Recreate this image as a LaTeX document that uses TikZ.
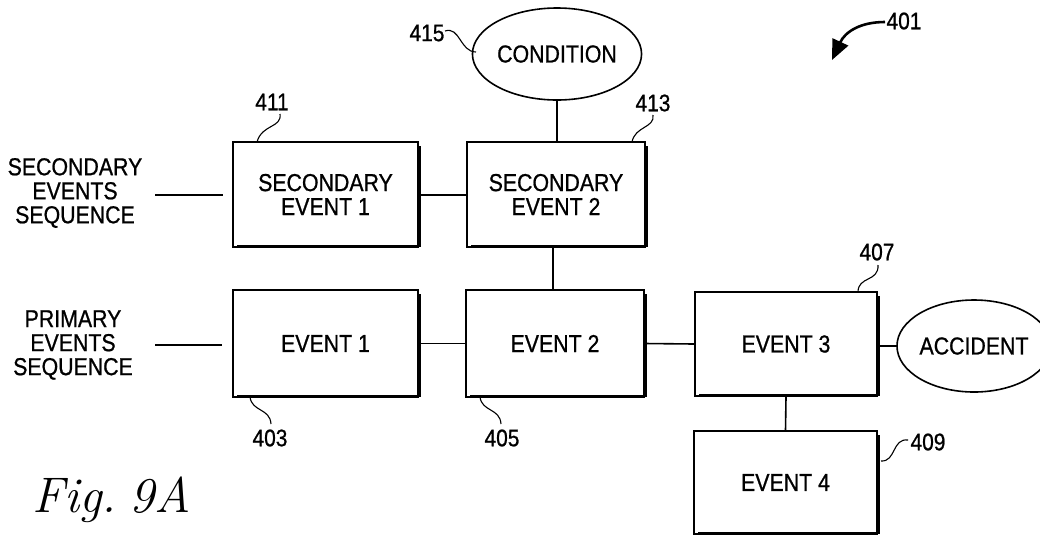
\documentclass[tikz,border=0pt]{standalone}
\usepackage{fontspec}
\newfontfamily\lbl[FakeStretch=0.87,FakeBold=0.8]{Liberation Sans}
\usetikzlibrary{arrows.meta,shapes.geometric}
\tikzset{
  evbox/.style={draw, line width=1.1pt, font=\lbl\fontsize{24.5}{24}\selectfont, align=center, inner sep=0pt},
  oval/.style={draw, ellipse, line width=1.6pt, font=\lbl\fontsize{24.5}{24}\selectfont, inner sep=0pt},
  link/.style={line width=1.6pt},
  leader/.style={line width=1.1pt},
  num/.style={font=\lbl\fontsize{24}{24}\selectfont, inner sep=0pt},
  seqlbl/.style={font=\lbl\fontsize{24.5}{24}\selectfont, align=center, inner sep=0pt},
  shade/.style={line width=2.4pt}
}
\newcommand\boxshade[1]{%
  \draw[shade] ([xshift=1.3pt,yshift=-5pt]#1.north east) -- ([xshift=1.3pt,yshift=1.3pt]#1.south east) -- ([xshift=5pt,yshift=1.3pt]#1.south west);}
\begin{document}
\begin{tikzpicture}[x=1pt,y=-1pt]
\useasboundingbox (0,0) rectangle (1040,539);
% boxes
\node[evbox, minimum width=185pt, minimum height=105pt] (se1) at (325.5,194.5) {SECONDARY\\EVENT 1};
\node[evbox, minimum width=178pt, minimum height=105pt] (se2) at (556,194.5) {SECONDARY\\EVENT 2};
\node[evbox, minimum width=185pt, minimum height=107pt] (e1) at (325.5,343.5) {EVENT 1};
\node[evbox, minimum width=178pt, minimum height=107pt] (e2) at (555,343.5) {EVENT 2};
\node[evbox, minimum width=182pt, minimum height=104pt] (e3) at (786,344) {EVENT 3};
\node[evbox, minimum width=183pt, minimum height=103pt] (e4) at (785.5,482.5) {EVENT 4};
\boxshade{se1}\boxshade{se2}\boxshade{e1}\boxshade{e2}\boxshade{e3}\boxshade{e4}
% ovals
\node[oval, minimum width=164pt, minimum height=92pt] (cond) at (557,54) {CONDITION};
\node[oval, minimum width=130pt, minimum height=92pt] (acc) at (974,346) {ACCIDENT};
% sequence labels
\node[seqlbl] (secseq) at (75,193) {SECONDARY\\EVENTS\\SEQUENCE};
\node[seqlbl] (priseq) at (73,345) {PRIMARY\\EVENTS\\SEQUENCE};
\coordinate (s1a) at (155,195); \coordinate (s1b) at (223,195);
\coordinate (p1a) at (155,345); \coordinate (p1b) at (222,345);
\draw[link] (s1a) -- (s1b);
\draw[link] (p1a) -- (p1b);
% connectors
\draw[link] (se1.east |- 0,195) -- (se2.west |- 0,195);
\draw[link] (cond.south) -- (cond.south |- se2.north);
\draw[link] (553,247) coordinate (c1) -- (553,290) coordinate (c2);
\draw[link] (e1.east) -- (e2.west);
\draw[link] (e2.east) -- (e3.west);
\draw[link] (e3.east |- acc.west) -- (acc.west);
\draw[link] (e3.south) -- (e4.north);
% reference numerals
\node[num] (n411) at (272,102) {411};
\node[num] (n413) at (653,103) {413};
\node[num] (n415) at (427,33) {415};
\node[num] (n403) at (270,438) {403};
\node[num] (n405) at (502,438) {405};
\node[num] (n407) at (877,252) {407};
\node[num] (n409) at (928,442) {409};
\node[num] (n401) at (904,21) {401};
\coordinate (t411) at (257,142);
\coordinate (t413) at (632,142);
\coordinate (t415) at (476,52);
\coordinate (t403) at (250,397);
\coordinate (t405) at (480,397);
\coordinate (t407) at (858,292);
\coordinate (t409) at (881,461);
\coordinate (t401) at (832,60);
\draw[leader] (280,114) .. controls (282,128) and (262,124) .. (t411);
\draw[leader] (653,115) .. controls (655,128) and (635,126) .. (t413);
\draw[leader] (445,31) .. controls (460,26) and (460,52) .. (t415);
\draw[leader] (t403) .. controls (252,412) and (270,408) .. (271,424);
\draw[leader] (t405) .. controls (482,412) and (500,408) .. (501,424);
\draw[leader] (878,265) .. controls (879,282) and (858,276) .. (t407);
\draw[leader] (908,440) .. controls (892,438) and (896,462) .. (t409);
\draw[line width=2.6pt, -{Triangle[length=20pt,width=17pt]}] (885,22) .. controls (860,22) and (845,32) .. (t401);
% figure caption
\node[font=\fontsize{50}{56}\selectfont\itshape, inner sep=0pt, anchor=base west] (fig) at (32,512) {Fig.\hspace{0.25em}9A};
\end{tikzpicture}
\end{document}
